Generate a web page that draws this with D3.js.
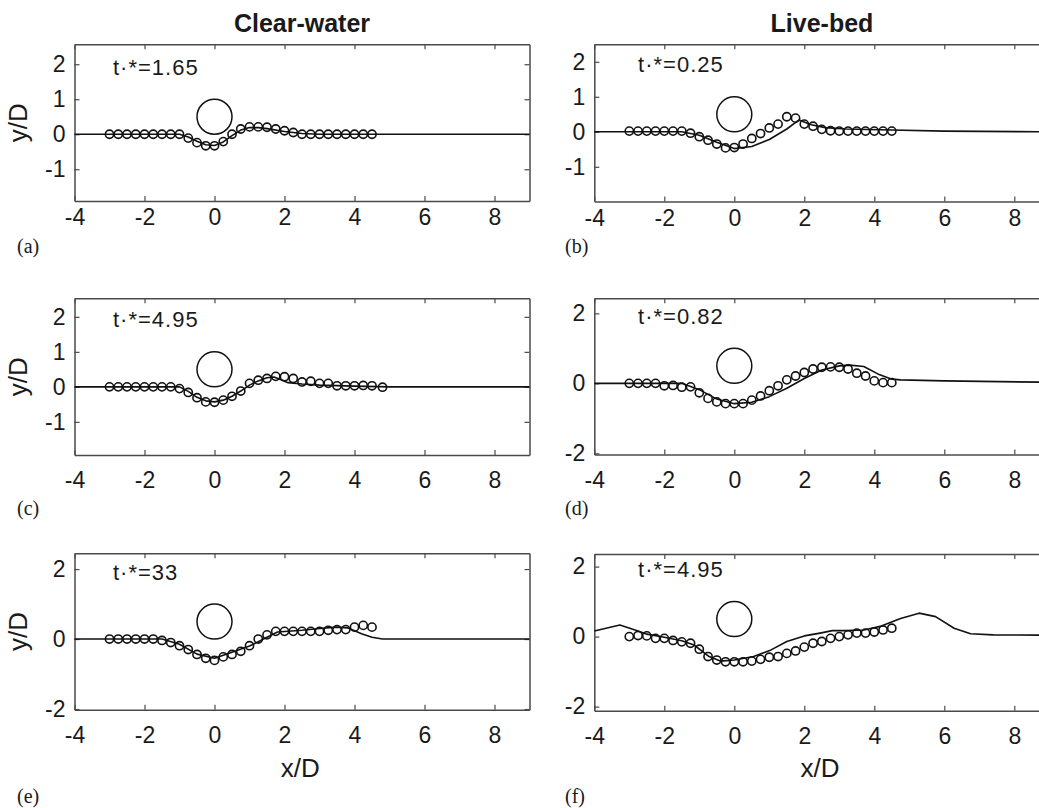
<!DOCTYPE html>
<html>
<head>
<meta charset="utf-8">
<script src="https://cdn.jsdelivr.net/npm/d3@7"></script>
<style>
  body { margin: 0; background: #fff; }
  svg { display: block; }
</style>
</head>
<body>
<svg id="fig" width="1039" height="808"></svg>
<script>
// ---- data ----
const columnTitles = ["Clear-water", "Live-bed"];
const panelLabels = ["(a)", "(b)", "(c)", "(d)", "(e)", "(f)"];
const timeLabels = ["t·*=1.65", "t·*=0.25", "t·*=4.95", "t·*=0.82", "t·*=33", "t·*=4.95"];
const xTicks = [-4, -2, 0, 2, 4, 6, 8];
const yTicksFine = [-1, 0, 1, 2];
const yTicksCoarse = [-2, 0, 2];
const xLimits = [-4, 9];
const yLimits = [[-1.91, 2.57], [-1.99, 2.5], [-1.95, 2.53], [-2.03, 2.43], [-2.02, 2.45], [-2.12, 2.36]];

// pipe (cylinder): centre and radius in D units
const pipeCentre = [0, 0.5];
const pipeRadius = 0.5;

// measurement stations (x/D)
const stations = [-3, -2.75, -2.5, -2.25, -2, -1.75, -1.5, -1.25, -1, -0.75, -0.5, -0.25, 0, 0.25, 0.5, 0.75,
  1, 1.25, 1.5, 1.75, 2, 2.25, 2.5, 2.75, 3, 3.25, 3.5, 3.75, 4, 4.25, 4.5];
const stationsC = [-3, -2.75, -2.5, -2.25, -2, -1.75, -1.5, -1.25, -1, -0.75, -0.5, -0.25, 0, 0.25, 0.5, 0.75,
  1, 1.25, 1.5, 1.75, 2, 2.25, 2.5, 2.75, 3, 3.25, 3.5, 3.75, 4, 4.25, 4.5, 4.8];

// measured bed profiles (y/D)
const measA = [0, 0, 0, 0, 0, 0, 0, 0, 0, -0.11, -0.24, -0.33, -0.33, -0.21, 0.0, 0.15, 0.21, 0.21, 0.2, 0.15,
  0.1, 0.05, 0.0, 0, 0, 0, 0, 0, 0, 0, 0];
const measB = [0.02, 0.02, 0.02, 0.02, 0.02, 0.02, 0.02, -0.04, -0.14, -0.24, -0.35, -0.46, -0.45, -0.35, -0.19,
  -0.05, 0.11, 0.22, 0.43, 0.39, 0.22, 0.16, 0.07, 0.03, 0.02, 0.02, 0.02, 0.02, 0.02, 0.02, 0.02];
const measC = [0, 0, 0, 0, 0, 0, 0, 0, -0.05, -0.16, -0.31, -0.43, -0.44, -0.38, -0.27, -0.12, 0.1, 0.19, 0.24,
  0.3, 0.29, 0.24, 0.14, 0.16, 0.1, 0.1, 0.03, 0.03, 0.03, 0.04, 0.03, -0.01];
const measD = [0, 0, 0, 0, -0.07, -0.06, -0.11, -0.1, -0.27, -0.43, -0.53, -0.58, -0.58, -0.58, -0.48, -0.36,
  -0.21, -0.07, 0.1, 0.21, 0.31, 0.41, 0.46, 0.47, 0.46, 0.41, 0.29, 0.21, 0.07, 0.02, 0.02];
const measE = [0, 0, 0, 0, 0, 0, -0.04, -0.1, -0.19, -0.3, -0.44, -0.55, -0.61, -0.51, -0.44, -0.35, -0.19,
  0.0, 0.12, 0.22, 0.22, 0.22, 0.22, 0.22, 0.22, 0.25, 0.27, 0.27, 0.34, 0.39, 0.34];
const measF = [0, 0.03, 0.02, -0.05, -0.05, -0.11, -0.15, -0.19, -0.36, -0.57, -0.67, -0.72, -0.72, -0.72, -0.7,
  -0.65, -0.59, -0.57, -0.48, -0.41, -0.3, -0.19, -0.14, -0.05, 0, 0.05, 0.1, 0.1, 0.13, 0.19, 0.24];

// simulated bed profiles
const simAx = [-4, -1, -0.75, -0.5, -0.25, 0, 0.25, 0.5, 0.75, 1, 1.25, 1.5, 2, 2.5, 3, 9];
const simAy = [0, 0, -0.08, -0.2, -0.3, -0.32, -0.22, -0.04, 0.12, 0.19, 0.19, 0.16, 0.08, 0.02, 0, 0];
const simBx = [-4, -1.5, -1, -0.5, 0, 0.5, 1, 1.5, 1.85, 2.2, 2.6, 3.2, 4.5, 6, 9];
const simBy = [0, 0, -0.1, -0.3, -0.48, -0.42, -0.22, 0.08, 0.34, 0.2, 0.12, 0.08, 0.05, 0.02, 0];
const simCx = [-4, -1, -0.75, -0.5, -0.25, 0, 0.25, 0.5, 0.75, 1, 1.25, 1.5, 1.7, 1.9, 2.1, 2.5, 3, 4, 5, 9];
const simCy = [0, 0, -0.13, -0.3, -0.4, -0.43, -0.38, -0.27, -0.12, 0.05, 0.17, 0.26, 0.28, 0.2, 0.12, 0.08, 0.05, 0.02, 0, 0];
const simDx = [-4, -1.5, -1, -0.5, 0, 0.5, 1, 1.5, 2, 2.5, 3, 3.3, 3.7, 4.1, 4.5, 4.75, 6, 9];
const simDy = [0, 0, -0.18, -0.45, -0.58, -0.54, -0.38, -0.14, 0.14, 0.38, 0.5, 0.52, 0.48, 0.27, 0.12, 0.1, 0.07, 0.03];
const simEx = [-4, -1.5, -1, -0.5, 0, 0.5, 1, 1.5, 1.8, 2.5, 3, 3.5, 3.8, 4.2, 4.5, 4.8, 9];
const simEy = [0, 0, -0.15, -0.43, -0.55, -0.38, -0.2, 0.05, 0.2, 0.25, 0.3, 0.34, 0.32, 0.15, 0.05, 0, 0];
const simFx = [-4, -3.27, -2.75, -2.5, -2, -1.5, -1.15, -0.72, -0.4, 0, 0.55, 1.05, 1.5, 2, 2.45, 2.8, 3.15, 3.7,
  4.2, 4.75, 5.28, 5.75, 6.28, 6.75, 7.4, 9];
const simFy = [0.16, 0.33, 0.16, 0.07, -0.02, -0.12, -0.24, -0.57, -0.7, -0.67, -0.57, -0.38, -0.14, 0.02, 0.1,
  0.17, 0.17, 0.19, 0.3, 0.52, 0.67, 0.57, 0.24, 0.08, 0.05, 0.04];

// ---- layout ----
const unit = 35;                 // pixels per D (equal aspect)
const colLeft = [74.5, 594.3];
const rowTop = [[44.3, 44.3], [298.3, 298.3], [553.3, 554]];
const tickLabelGap = [8, 17, 17];
const labelBaseline = [253, 515, 803];
const tLabelX = [-2.9, -2.75];

const panels = [
  { meas: measA, st: stations,  sx: simAx, sy: simAy, yt: yTicksFine },
  { meas: measB, st: stations,  sx: simBx, sy: simBy, yt: yTicksFine },
  { meas: measC, st: stationsC, sx: simCx, sy: simCy, yt: yTicksFine },
  { meas: measD, st: stations,  sx: simDx, sy: simDy, yt: yTicksCoarse },
  { meas: measE, st: stations,  sx: simEx, sy: simEy, yt: yTicksCoarse },
  { meas: measF, st: stations,  sx: simFx, sy: simFy, yt: yTicksCoarse }
];

const FONT = "'Liberation Sans', Arial, Helvetica, sans-serif";
const AXIS_COLOR = "#4a4a4a";
const svg = d3.select("#fig");
const plainNumber = d => String(d);   // keeps an ASCII hyphen for negatives

// column titles
columnTitles.forEach((t, c) => {
  svg.append("text")
    .attr("x", [302, 822][c]).attr("y", 32)
    .attr("text-anchor", "middle")
    .attr("font-family", FONT).attr("font-weight", "bold").attr("font-size", 25)
    .attr("fill", "#1a1a1a")
    .text(t);
});

panels.forEach((p, i) => {
  const row = Math.floor(i / 2), col = i % 2;
  const left = colLeft[col];
  const top = rowTop[row][col];
  const ylim = yLimits[i];
  const h = (ylim[1] - ylim[0]) * unit;
  const w = (xLimits[1] - xLimits[0]) * unit;

  const x = d3.scaleLinear().domain(xLimits).range([left, left + w]);
  const y = d3.scaleLinear().domain(ylim).range([top + h, top]);

  const g = svg.append("g");

  // axes box with inward ticks on all four sides
  const styleAxis = sel => {
    sel.selectAll("path.domain").attr("stroke", AXIS_COLOR).attr("stroke-width", 1.5);
    sel.selectAll(".tick line").attr("stroke", AXIS_COLOR).attr("stroke-width", 1.2);
    sel.selectAll(".tick text").attr("font-family", FONT).attr("font-size", 23).attr("fill", "#1a1a1a");
  };

  g.append("g").attr("transform", `translate(0,${top + h})`)
    .call(d3.axisBottom(x).tickValues(xTicks).tickFormat(plainNumber).tickSizeInner(-5).tickSizeOuter(0).tickPadding(tickLabelGap[row]))
    .call(styleAxis);
  g.append("g").attr("transform", `translate(0,${top})`)
    .call(d3.axisTop(x).tickValues(xTicks).tickFormat("").tickSizeInner(-5).tickSizeOuter(0))
    .call(styleAxis);
  g.append("g").attr("transform", `translate(${left},0)`)
    .call(d3.axisLeft(y).tickValues(p.yt).tickFormat(plainNumber).tickSizeInner(-5).tickSizeOuter(0).tickPadding(9))
    .call(styleAxis);
  g.append("g").attr("transform", `translate(${left + w},0)`)
    .call(d3.axisRight(y).tickValues(p.yt).tickFormat("").tickSizeInner(-5).tickSizeOuter(0))
    .call(styleAxis);

  // pipe
  g.append("ellipse")
    .attr("cx", x(pipeCentre[0])).attr("cy", y(pipeCentre[1]))
    .attr("rx", x(pipeRadius) - x(0)).attr("ry", y(0) - y(pipeRadius))
    .attr("fill", "none").attr("stroke", "#111").attr("stroke-width", 1.5);

  // simulated profile
  const simPts = p.sx.map((v, k) => [v, p.sy[k]]);
  g.append("path")
    .datum(simPts)
    .attr("d", d3.line().x(d => x(d[0])).y(d => y(d[1])))
    .attr("fill", "none").attr("stroke", "#111").attr("stroke-width", 1.6)
    .attr("stroke-linejoin", "round");

  // measured profile
  g.append("g").selectAll("circle")
    .data(p.st.map((v, k) => [v, p.meas[k]]))
    .join("circle")
    .attr("cx", d => x(d[0])).attr("cy", d => y(d[1]))
    .attr("r", 4.1)
    .attr("fill", "none").attr("stroke", "#111").attr("stroke-width", 1.6);

  // time label
  g.append("text")
    .attr("x", x(tLabelX[col])).attr("y", y(1.7))
    .attr("font-family", FONT).attr("font-size", 22).attr("letter-spacing", 1)
    .attr("fill", "#1a1a1a")
    .text(timeLabels[i]);

  // y label on left column
  if (col === 0) {
    g.append("text")
      .attr("transform", `translate(${left - 48},${top + h / 2}) rotate(-90)`)
      .attr("text-anchor", "middle")
      .attr("font-family", FONT).attr("font-size", 26).attr("fill", "#1a1a1a")
      .text("y/D");
  }
  // x label on bottom row
  if (row === 2) {
    g.append("text")
      .attr("x", x(2.45)).attr("y", 777)
      .attr("text-anchor", "middle")
      .attr("font-family", FONT).attr("font-size", 26).attr("fill", "#1a1a1a")
      .text("x/D");
  }

  // panel letter
  g.append("text")
    .attr("x", [17, 565][col]).attr("y", labelBaseline[row])
    .attr("font-family", "'Liberation Serif', 'Times New Roman', serif").attr("font-size", 20).attr("fill", "#1a1a1a")
    .text(panelLabels[i]);
});
</script>
</body>
</html>
